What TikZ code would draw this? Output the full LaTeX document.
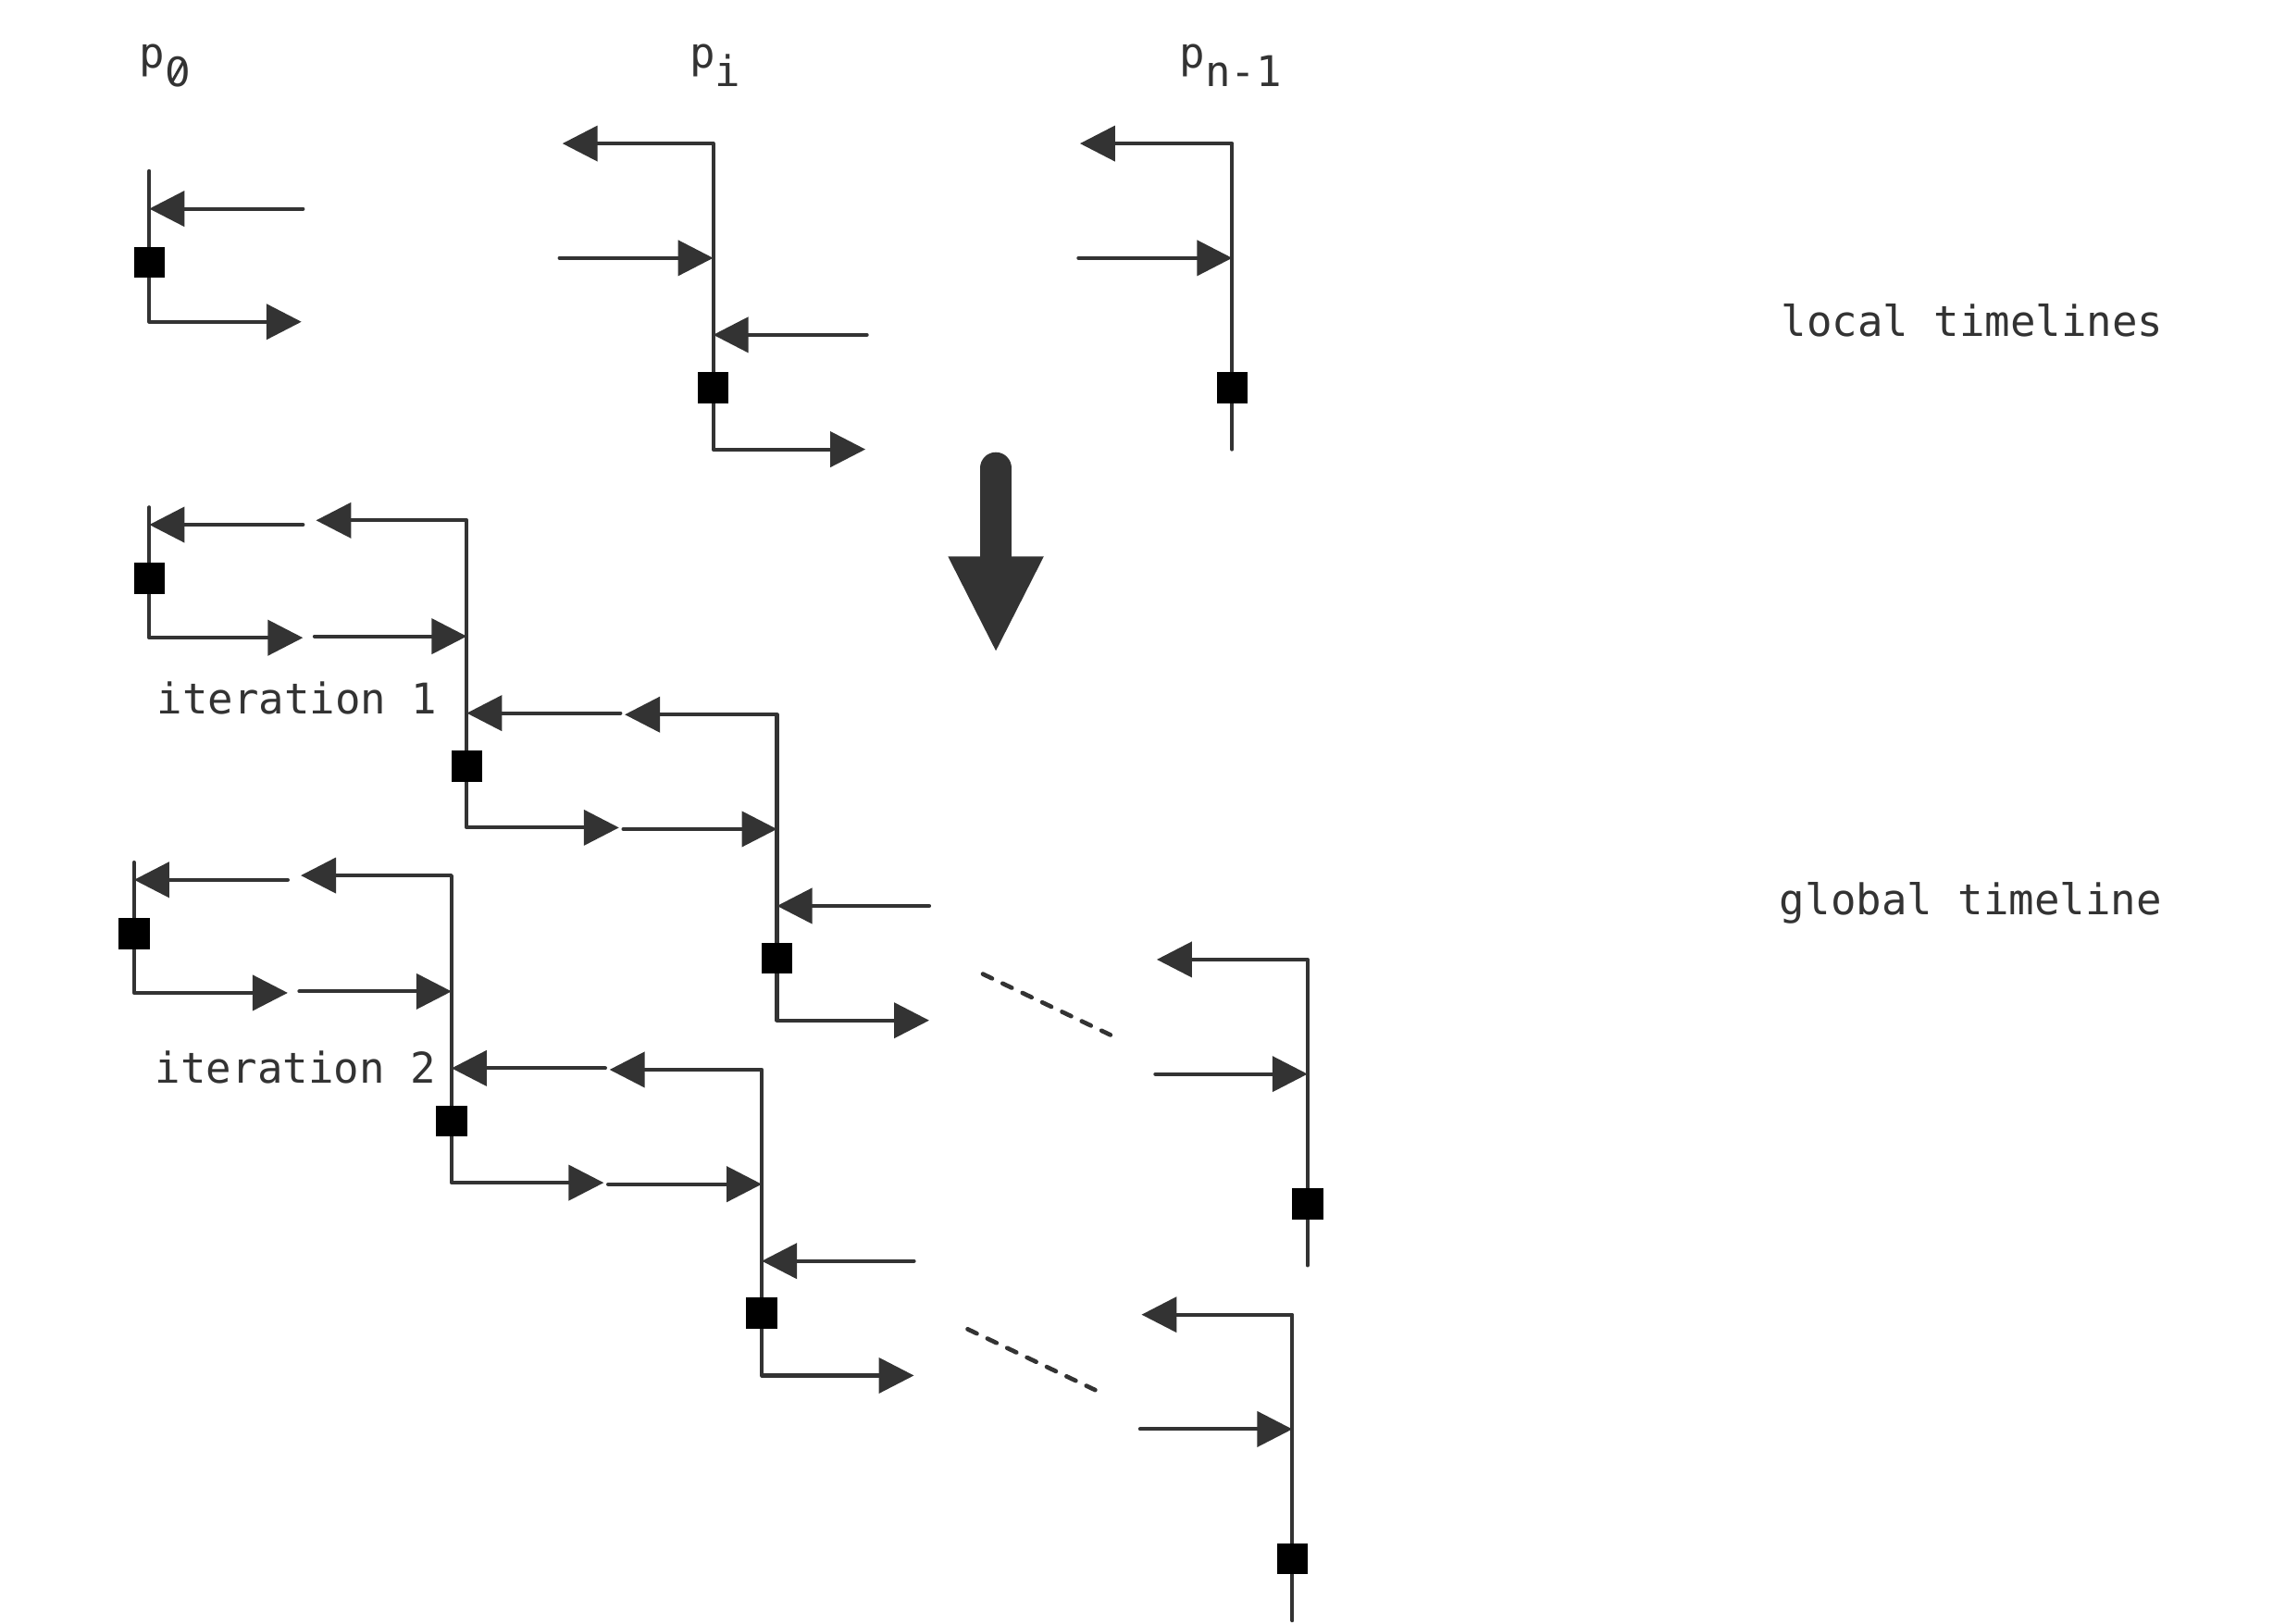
\documentclass[tikz,border=0pt]{standalone}
\usepackage{fontspec}
\newfontfamily\monofont{DejaVu Sans Mono}
\newfontfamily\plainzerofont{DejaVu Sans}
\usetikzlibrary{arrows.meta}
\definecolor{ink}{HTML}{333333}

\begin{document}
\begin{tikzpicture}[x=0.01cm, y=-0.01cm,
  tl/.style={draw=ink, line width=0.75pt, line join=round, line cap=round},
  msg/.style={tl, -{Triangle[length=6.9pt, width=6.9pt]}},
  bimsg/.style={tl, {Triangle[length=6.9pt, width=6.9pt]}-{Triangle[length=6.9pt, width=6.9pt]}},
  lmsg/.style={tl, {Triangle[length=6.9pt, width=6.9pt]}-},
  event/.style={fill=black, minimum size=6.1pt, inner sep=0pt, outer sep=0pt, rectangle},
  label/.style={text=ink, inner sep=0pt, anchor=base west, font=\monofont\fontsize{8.3}{10}\selectfont},
  dots/.style={draw=ink, line width=0.85pt, line cap=round, dash pattern=on 2pt off 2.3pt}
]
\useasboundingbox (0,0) rectangle (1568,1120);

% process names
\node[label] (n0) at (95.5,46.6) {p};
\node[label, font=\plainzerofont\fontsize{7.9}{10}\selectfont, yshift=-3.7pt, xshift=-0.4pt]
  (n0s) at (n0.base east) {0};
\draw[ink, line width=0.55pt] ([xshift=-1.2pt, yshift=-2.1pt]n0s.center) -- ([xshift=1.2pt, yshift=2.1pt]n0s.center);
\node[label] (ni) at (475,46.6) {p\raisebox{-0.45em}{i}};
\node[label] (nn) at (813,46.6) {p\raisebox{-0.45em}{n-1}};

% ---------- local timelines ----------
% p0
\coordinate (a0t) at (103,118); \coordinate (a0b) at (103,222);
\coordinate (a0o) at (208,222); \coordinate (a0i) at (209,144); \coordinate (a0r) at (103,144);
\draw[msg] (a0t) -- (a0b) -- (a0o);
\draw[msg] (a0i) -- (a0r);
\node[event] (a0e) at (103,181) {};
% pi
\coordinate (ait) at (492,99); \coordinate (ail) at (388,99);
\coordinate (aib) at (492,310); \coordinate (aio) at (597,310);
\coordinate (aiin) at (386,178); \coordinate (aiinr) at (492,178);
\coordinate (airn) at (598,231); \coordinate (airr) at (492,231);
\draw[bimsg] (ail) -- (ait) -- (aib) -- (aio);
\draw[msg] (aiin) -- (aiinr);
\draw[msg] (airn) -- (airr);
\node[event] (aie) at (492,267.5) {};
% p_{n-1}
\coordinate (ant) at (850,99); \coordinate (anl) at (745,99);
\coordinate (anb) at (850,310);
\coordinate (anin) at (744,178); \coordinate (aninr) at (850,178);
\draw[lmsg] (anl) -- (ant) -- (anb);
\draw[msg] (anin) -- (aninr);
\node[event] (ane) at (850,267.5) {};

\node[label] (loc) at (1228,232) {local timelines};

% ---------- transformation arrow ----------
\coordinate (bigtop) at (687,323);
\coordinate (bigbase) at (687,390);
\coordinate (bigl) at (654,384); \coordinate (bigr) at (720,384);
\coordinate (bigtip) at (687,449);
\draw[ink, line width=6.26pt, line cap=round] (bigtop) -- (bigbase);
\fill[ink] (bigl) -- (bigr) -- (bigtip) -- cycle;

\node[label] (glob) at (1227,631) {global timeline};

% ---------- global timeline, one block per iteration ----------
\foreach \dx/\dy/\k in {0/0/1, -10.5/245/2}{
\begin{scope}[shift={(\dx,\dy)}]
  % p0
  \coordinate (g\k a) at (103,350); \coordinate (g\k b) at (103,440);
  \coordinate (g\k c) at (209,440);
  \coordinate (g\k d) at (209,362); \coordinate (g\k e) at (103,362);
  \draw[msg] (g\k a) -- (g\k b) -- (g\k c);
  \draw[msg] (g\k d) -- (g\k e);
  \node[event] (g\k p0) at (103,399) {};
  % pi
  \coordinate (g\k f) at (218,359); \coordinate (g\k g) at (322,359);
  \coordinate (g\k h) at (322,571); \coordinate (g\k j) at (427,571);
  \coordinate (g\k m) at (217,439); \coordinate (g\k n) at (322,439);
  \coordinate (g\k o) at (428,492); \coordinate (g\k q) at (322,492);
  \draw[bimsg] (g\k f) -- (g\k g) -- (g\k h) -- (g\k j);
  \draw[msg] (g\k m) -- (g\k n);
  \draw[msg] (g\k o) -- (g\k q);
  \node[event] (g\k pi) at (322,528.5) {};
  % next process
  \coordinate (g\k r) at (431,493); \coordinate (g\k s) at (536,493);
  \coordinate (g\k t) at (536,704); \coordinate (g\k u) at (641,704);
  \coordinate (g\k v) at (430,572); \coordinate (g\k w) at (536,572);
  \coordinate (g\k x) at (641,625); \coordinate (g\k y) at (536,625);
  \draw[bimsg] (g\k r) -- (g\k s) -- (g\k t) -- (g\k u);
  \draw[msg] (g\k v) -- (g\k w);
  \draw[msg] (g\k x) -- (g\k y);
  \node[event] (g\k pk) at (536,661) {};
  % elided processes
  \coordinate (g\k z1) at (678,672); \coordinate (g\k z2) at (766,714);
  \draw[dots] (g\k z1) -- (g\k z2);
  % p_{n-1}
  \coordinate (g\k A) at (798,662); \coordinate (g\k B) at (902,662);
  \coordinate (g\k C) at (902,873);
  \coordinate (g\k D) at (797,741); \coordinate (g\k E) at (902,741);
  \draw[lmsg] (g\k A) -- (g\k B) -- (g\k C);
  \draw[msg] (g\k D) -- (g\k E);
  \node[event] (g\k pn) at (902,830.5) {};
\end{scope}
}

\node[label] (it1) at (107.5,492.7) {iteration 1};
\node[label] (it2) at (106.5,747) {iteration 2};
\end{tikzpicture}
\end{document}
